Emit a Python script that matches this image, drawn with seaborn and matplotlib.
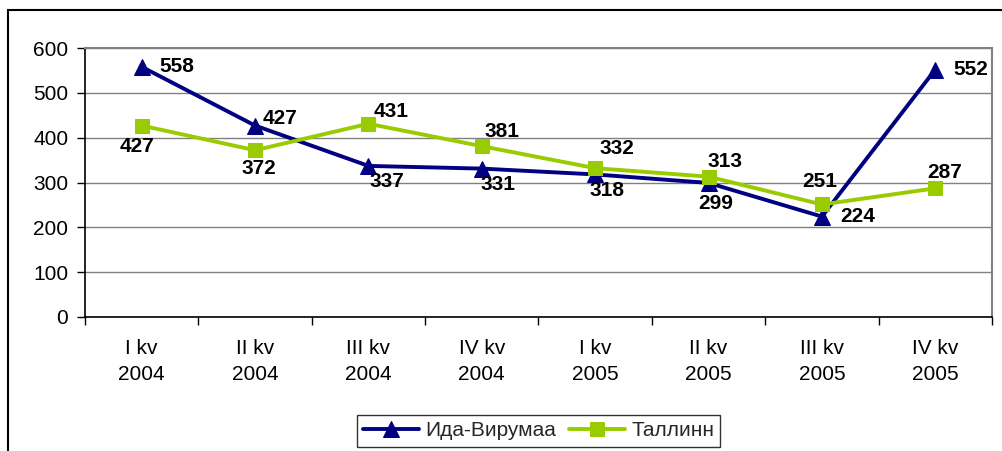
import matplotlib
matplotlib.use("Agg")
import matplotlib.pyplot as plt
import seaborn as sns
import pandas as pd
from matplotlib.patches import Rectangle

categories = ["I kv\n2004", "II kv\n2004", "III kv\n2004", "IV kv\n2004",
              "I kv\n2005", "II kv\n2005", "III kv\n2005", "IV kv\n2005"]
ida_virumaa = [558, 427, 337, 331, 318, 299, 224, 552]
tallinn = [427, 372, 431, 381, 332, 313, 251, 287]
series_names = ["Ида-Вирумаа", "Таллинн"]
y_ticks = [0, 100, 200, 300, 400, 500, 600]

sns.set_theme(style="white")
plt.rcParams['font.family'] = ['Liberation Sans', 'DejaVu Sans']

DPI = 100
PX = 72 / DPI
FS = 15
fig = plt.figure(figsize=(1003 / DPI, 451 / DPI), dpi=DPI)
ax = fig.add_axes([85 / 1003, 1 - 317 / 451, (992 - 85) / 1003, (317 - 48) / 451])

navy = "#000080"
green = "#99CC00"

x = list(range(len(categories)))
df = pd.DataFrame({"x": x + x,
                   "value": ida_virumaa + tallinn,
                   "series": [series_names[0]] * len(x) + [series_names[1]] * len(x)})

sns.lineplot(data=df[df.series == series_names[0]], x="x", y="value", ax=ax,
             color=navy, lw=2.8, marker="^", markersize=12, markeredgecolor=navy,
             markerfacecolor=navy, label=series_names[0], zorder=3)
sns.lineplot(data=df[df.series == series_names[1]], x="x", y="value", ax=ax,
             color=green, lw=2.8, marker="s", markersize=10, markeredgecolor=green,
             markerfacecolor=green, label=series_names[1], zorder=3)

ax.set_xlim(-0.5, len(categories) - 0.5)
ax.set_ylim(0, 600)
ax.set_yticks(y_ticks)
ax.set_yticklabels([str(v) for v in y_ticks])
ax.set_xticks(x)
ax.set_xticklabels(categories, linespacing=1.45)
ax.set_xticks([i - 0.5 for i in range(len(categories) + 1)], minor=True)
ax.set_xlabel("")
ax.set_ylabel("")

ax.tick_params(axis="y", which="major", direction="out", length=6, width=1, color="black",
               pad=6, labelsize=FS, left=True)
ax.tick_params(axis="x", which="major", length=0, pad=16, labelsize=FS)
ax.tick_params(axis="x", which="minor", direction="out", length=6, width=1, color="black",
               bottom=True)
for lab in ax.get_xticklabels() + ax.get_yticklabels():
    lab.set_color("black")

ax.grid(axis="y", color="#808080", lw=1)
ax.set_axisbelow(True)
for s in ["top", "right"]:
    ax.spines[s].set_color("#808080")
    ax.spines[s].set_linewidth(1.5)
for s in ["left", "bottom"]:
    ax.spines[s].set_color("black")
    ax.spines[s].set_linewidth(1.2)

# data label offsets in pixels (dx, dy up-positive, ha)
ida_off = [(18, 0, "left"), (8, 7, "left"), (18, -16, "center"), (16, -16, "center"),
           (12, -16, "center"), (7, -21, "center"), (18, 0, "left"), (18, 0, "left")]
tal_off = [(-5, -21, "center"), (4, -18, "center"), (5, 12, "left"), (3, 15, "left"),
           (4, 20, "left"), (-1, 15, "left"), (-2, 23, "center"), (9, 16, "center")]
for vals, offs in ((ida_virumaa, ida_off), (tallinn, tal_off)):
    for i, v in enumerate(vals):
        dx, dy, ha = offs[i]
        ax.annotate(str(v), (i, v), xytext=(dx * PX, dy * PX), textcoords="offset points",
                    ha=ha, va="center", fontsize=FS, fontweight="bold", color="black", zorder=5)

ax.get_legend().remove()
handles, labels = ax.get_legend_handles_labels()
leg = fig.legend(handles, labels, loc="center", bbox_to_anchor=(538.5 / 1003, 1 - 431 / 451),
                 ncol=2, frameon=True, fancybox=False, fontsize=FS, handlelength=2.7,
                 columnspacing=0.6, handletextpad=0.3, borderpad=0.3, borderaxespad=0)
leg.get_frame().set_edgecolor("black")
leg.get_frame().set_linewidth(1.0)

fig.add_artist(Rectangle((8.5 / 1003, -0.1), 2, 1 - 9.5 / 451 + 0.1, transform=fig.transFigure,
                         fill=False, edgecolor="black", lw=1.5, clip_on=False))

fig.savefig("out.png", dpi=DPI)
